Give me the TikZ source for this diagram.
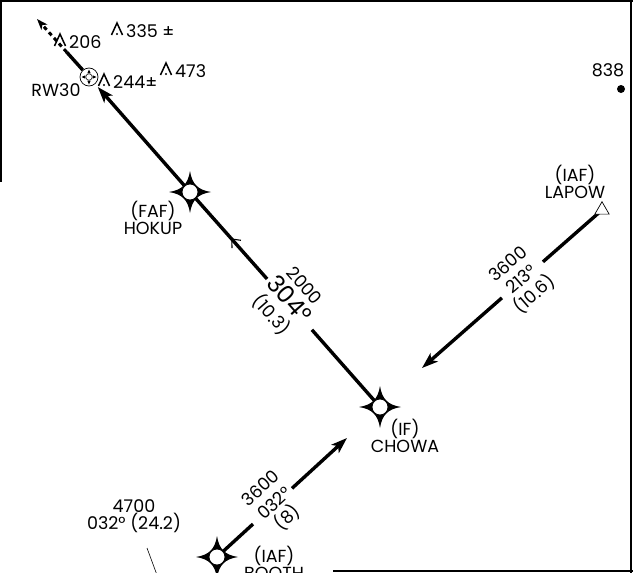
\documentclass[tikz,border=0pt]{standalone}
\usepackage{fontspec}
\setmainfont{Poppins}
\usetikzlibrary{arrows.meta,calc,shapes.geometric,backgrounds}

\newcommand\chartfont{\fontsize{17.5}{17}\selectfont}
\newcommand\coursefont{\fontsize{17.5}{20}\selectfont}
\newcommand\bigcourse{\fontsize{24}{21}\selectfont}

\tikzset{
  frame/.style={line width=1.8pt},
  leg/.style={line width=3.4pt},
  legarrow/.style={leg, -{Stealth[length=16pt,width=11pt,inset=4pt]}},
  missed/.style={line width=3pt, dash pattern=on 4pt off 3.5pt,
    -{Stealth[length=11pt,width=8pt,inset=3pt]}},
  chevron/.style={line width=1.1pt},
  fixpt/.style={circle, draw, fill=white, line width=0.8pt,
    minimum size=16pt, inner sep=0pt},
  iaf/.style={regular polygon, regular polygon sides=3, draw, fill=white,
    line width=0.7pt, minimum size=16.5pt, inner sep=0pt},
  rwy/.style={circle, draw, line width=0.7pt, minimum size=18pt, inner sep=0pt},
  fixname/.style={align=center, font=\chartfont, inner sep=0pt},
  course/.style={align=center, font=\coursefont, inner sep=0pt},
  leader/.style={line width=0.6pt}
}

\newcommand\fixstar[1]{%
  \fill[shift={#1}] (21,0) .. controls (8,2) and (2,8) .. (0,21)
    .. controls (-2,8) and (-8,2) .. (-21,0)
    .. controls (-8,-2) and (-2,-8) .. (0,-21)
    .. controls (2,-8) and (8,-2) .. (21,0) -- cycle;}

\newcommand\obstacle[3]{%
  \draw[line width=1.5pt, shift={#2}] (-5.5,6) -- (0,-6) -- (5.5,6);
  \fill[shift={#2}] (0,5) circle (1.2pt);
  \node[anchor=west, font=\chartfont, inner sep=0pt] (#1) at ($#2+(9,2)$) {#3};}

\begin{document}
\begin{tikzpicture}[x=1pt,y=-1pt]
\useasboundingbox (0,0) rectangle (633,573);
\draw[frame] (0,1) -- (633,1);
\draw[frame] (1,0) -- (1,182);
\draw[frame] (631,0) -- (631,573);
\draw[frame] (333,571) -- (633,571);

\fixstar{(190,192)}
\node[fixpt] (hokup) at (190,192) {};
\fixstar{(380,407)}
\node[fixpt] (chowa) at (380,407) {};
\fixstar{(217,557)}
\node[fixpt] (booth) at (217,557) {};
\node[iaf] (lapow) at (602,210) {};
\node[rwy] (rw) at (89,77) {};
\draw[line width=0.5pt] (rw) circle (3.2pt);
\foreach \a in {0,90,180,270}
  \fill ($(rw)+(\a:7.5pt)$) -- ($(rw)+(\a+25:4pt)$) -- ($(rw)+(\a-25:4pt)$) -- cycle;

\coordinate (mapt) at (37,19);
\coordinate (ltip) at (422,368);
\coordinate (btip) at (347,438);
\coordinate (mark) at ($(chowa)!0.509!(rw)$);

\begin{scope}[on background layer]
\draw[leg] (chowa.center) -- ($(chowa)!0.234!(rw)$);
\draw[leg] ($(chowa)!0.388!(rw)$) -- (hokup.center);
\draw[chevron] ($(mark)+(9.1,1.3)$) -- (mark) -- ($(mark)+(0.1,9.2)$);
\draw[legarrow, shorten >=4pt] (hokup.center) -- (rw);
\draw[leg] (rw) -- ($(rw)!0.43!(mapt)$);
\draw[missed] ($(rw)!0.43!(mapt)$) -- (mapt);
\draw[leg] (lapow.center) -- ($(lapow)!0.328!(ltip)$);
\draw[legarrow] ($(lapow)!0.556!(ltip)$) -- (ltip);
\draw[leg] (booth.center) -- ($(booth)!0.277!(btip)$);
\draw[legarrow] ($(booth)!0.577!(btip)$) -- (btip);
\end{scope}

\node[course, rotate=-48.6, font=\fontsize{17.5}{22}\selectfont] (c304)
  at ($(chowa)!0.32!(rw)$) {2000\\{\bigcourse 304°}\\(10.3)};
\node[course, rotate=40.9] (c213) at ($(lapow)!0.444!(ltip)$) {3600\\213°\\(10.6)};
\node[course, rotate=42.5] (c032) at ($(booth)!0.446!(btip)$) {3600\\032°\\(8)};

\node[fixname] (hokup-n) at (153,218) {(FAF)\\HOKUP};
\node[fixname] (chowa-n) at (405,436) {(IF)\\CHOWA};
\node[fixname] (lapow-n) at (575,182) {(IAF)\\LAPOW};
\node[fixname] (booth-n) at (274,563) {(IAF)\\BOOTH};
\node[fixname] (rw-n) at (56,90) {RW30};
\node[fixname] (elev) at (608,70) {838};
\node[circle, fill, minimum size=8pt, inner sep=0pt] (peak) at (621,89) {};

\node[fixname] (feeder) at (134,516) {4700\\032° (24.2)};
\coordinate (lead1) at (147,548);
\coordinate (lead2) at (157,575);
\draw[leader] (lead1) -- (lead2);

\obstacle{ob206}{(60,40)}{206}
\obstacle{ob335}{(117,29)}{335 ±}
\obstacle{ob244}{(104,80)}{244±}
\obstacle{ob473}{(166,69)}{473}
\end{tikzpicture}
\end{document}
